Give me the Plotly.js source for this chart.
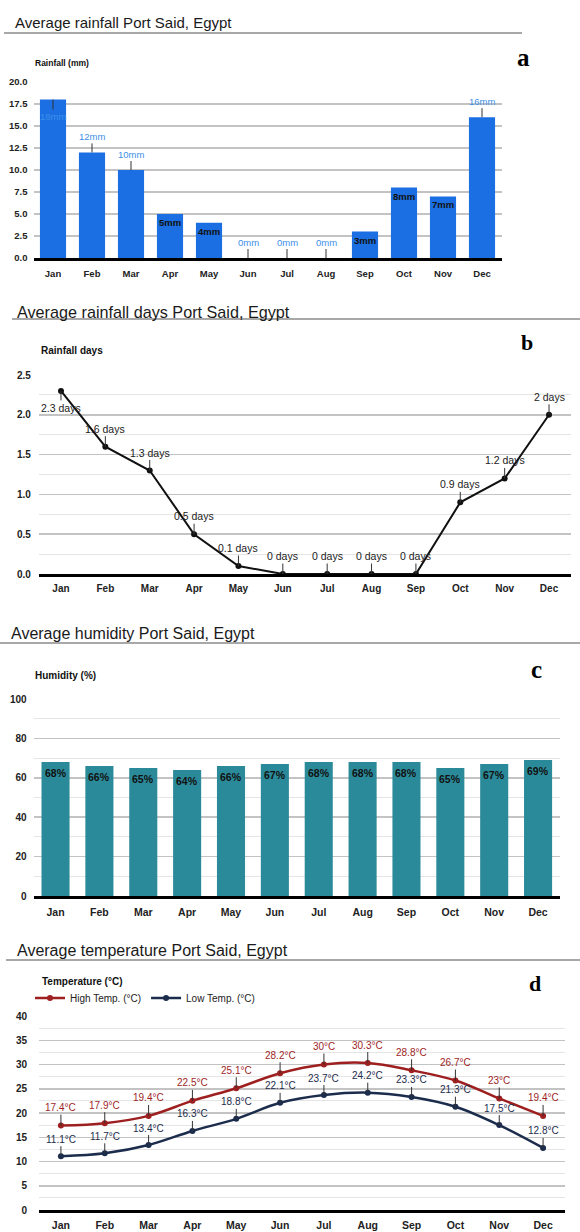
<!DOCTYPE html>
<html><head><meta charset="utf-8">
<script src="https://cdn.plot.ly/plotly-3.0.1.min.js"></script>
<style>html,body{margin:0;padding:0;background:#fff}#chart{width:580px;height:1232px}</style>
</head><body><div id="chart"></div>
<script>
// ---------- data ----------
const months = ['Jan','Feb','Mar','Apr','May','Jun','Jul','Aug','Sep','Oct','Nov','Dec'];
const rainfallMm = [18,12,10,5,4,0,0,0,3,8,7,16];
const rainfallDays = [2.3,1.6,1.3,0.5,0.1,0,0,0,0,0.9,1.2,2];
const humidityPct = [68,66,65,64,66,67,68,68,68,65,67,69];
const highTempC = [17.4,17.9,19.4,22.5,25.1,28.2,30,30.3,28.8,26.7,23,19.4];
const lowTempC = [11.1,11.7,13.4,16.3,18.8,22.1,23.7,24.2,23.3,21.3,17.5,12.8];
const panelTitles = ['Average rainfall Port Said, Egypt','Average rainfall days Port Said, Egypt','Average humidity Port Said, Egypt','Average temperature Port Said, Egypt'];
const panelLetters = ['a','b','c','d'];
const axisTitles = ['Rainfall (mm)','Rainfall days','Humidity (%)','Temperature (°C)'];
const seriesNames = ['High Temp. (°C)','Low Temp. (°C)'];

// ---------- geometry / style ----------
const W = 580, H = 1232;
const fx = p => p / W;
const fy = p => 1 - p / H;
const SANS = '"Liberation Sans", Arial, sans-serif';
const SERIF = '"Liberation Serif", "Times New Roman", serif';
const GRID = '#c3c3c3', MINOR = '#e5e5e5';
const RAIN_BLUE = '#1b6fe3', RAIN_LABEL = '#3d8fe8';
const TEAL = '#2b8a99';
const HIGH = '#9e1f1f', LOW = '#1c2c4c';

const geo = {
  a: {x: [33.5, 501.5], y: [82, 258]},
  b: {x: [38.8, 571.2], y: [375, 574]},
  c: {x: [33.6, 560], y: [699, 896]},
  d: {x: [39, 565], y: [1016, 1210]}
};

function xAxis(g, anchor, font, standoff) {
  return {domain: [fx(g.x[0]), fx(g.x[1])], anchor, type: 'category', range: [-0.5, 11.5],
    showgrid: false, zeroline: false, showline: true, linecolor: '#000', linewidth: 3,
    ticks: '', tickfont: font, ticklabelstandoff: standoff, fixedrange: true, automargin: false};
}
function yAxis(g, anchor, range, dtick, minorDtick, fmt, font, standoff) {
  const ax = {domain: [fy(g.y[1]), fy(g.y[0])], anchor, range, tick0: 0, dtick,
    showgrid: true, gridcolor: GRID, gridwidth: 1.5, zeroline: false, showline: false,
    ticks: '', tickformat: fmt, tickfont: font, ticklabelstandoff: standoff,
    fixedrange: true, automargin: false};
  if (minorDtick) ax.minor = {dtick: minorDtick, showgrid: true, gridcolor: MINOR, gridwidth: 1};
  return ax;
}
const tickBold = size => ({family: SANS, size, color: '#222', weight: 'bold'});

// ---------- traces ----------
const traces = [
  {type: 'bar', x: months, y: rainfallMm, xaxis: 'x', yaxis: 'y', width: 0.67,
   marker: {color: RAIN_BLUE}, showlegend: false},
  {type: 'scatter', mode: 'lines+markers', x: months, y: rainfallDays, xaxis: 'x2', yaxis: 'y2',
   line: {color: '#111', width: 2}, marker: {color: '#111', size: 6}, showlegend: false, cliponaxis: false},
  {type: 'bar', x: months, y: humidityPct, xaxis: 'x3', yaxis: 'y3', width: 0.64,
   marker: {color: TEAL}, showlegend: false},
  {type: 'scatter', mode: 'lines+markers', name: seriesNames[0], x: months, y: highTempC, xaxis: 'x4', yaxis: 'y4',
   line: {color: HIGH, width: 2.5, shape: 'spline'}, marker: {color: HIGH, size: 6}, cliponaxis: false},
  {type: 'scatter', mode: 'lines+markers', name: seriesNames[1], x: months, y: lowTempC, xaxis: 'x4', yaxis: 'y4',
   line: {color: LOW, width: 2.5, shape: 'spline'}, marker: {color: LOW, size: 6}, cliponaxis: false}
];

// ---------- annotations ----------
const ann = [];
const titlePos = [[13, 22, 15], [15, 312, 16.2], [9, 633, 16], [15, 950, 16]];
const letterPos = [[523, 58, 25], [527, 343, 22], [536, 670, 25], [535, 983, 22]];
const axisTitlePos = [[33, 63, 8.5], [39, 350, 10], [33, 675, 10], [40, 981, 10]];
panelTitles.forEach((t, i) => {
  const p = titlePos[i];
  ann.push({xref: 'paper', yref: 'paper', x: fx(p[0]), y: fy(p[1]), xanchor: 'left', yanchor: 'middle',
    text: t, showarrow: false, font: {family: SANS, size: p[2], color: '#1a1a1a'}});
  const l = letterPos[i];
  ann.push({xref: 'paper', yref: 'paper', x: fx(l[0]), y: fy(l[1]), xanchor: 'center', yanchor: 'middle',
    text: panelLetters[i], showarrow: false, font: {family: SERIF, size: l[2], color: '#000', weight: 'bold'}});
  const a = axisTitlePos[i];
  ann.push({xref: 'paper', yref: 'paper', x: fx(a[0]), y: fy(a[1]), xanchor: 'left', yanchor: 'middle',
    text: axisTitles[i], showarrow: false, font: {family: SANS, size: a[2], color: '#111', weight: 'bold'}});
});

const stem = {showarrow: true, arrowhead: 0, arrowwidth: 1, arrowcolor: '#333', ax: 0, standoff: 0};

// panel a: labels inside the bar for these months, stemmed labels otherwise
const insideA = ['Apr', 'May', 'Sep', 'Oct', 'Nov'];
rainfallMm.forEach((v, i) => {
  const m = months[i];
  if (insideA.includes(m)) {
    ann.push({xref: 'x', yref: 'y', x: m, y: v, text: v + 'mm', showarrow: false, yanchor: 'top', yshift: -1,
      font: {family: SANS, size: 9.5, color: '#111', weight: 'bold'}});
  } else {
    ann.push(Object.assign({}, stem, {xref: 'x', yref: 'y', x: m, y: v, text: v + 'mm', ay: i === 0 ? 17 : -16,
      font: {family: SANS, size: 9.5, color: RAIN_LABEL}}));
  }
});

// panel b
rainfallDays.forEach((v, i) => {
  ann.push(Object.assign({}, stem, {xref: 'x2', yref: 'y2', x: months[i], y: v, text: v + ' days',
    ay: i === 0 ? 17 : -18, font: {family: SANS, size: 10.5, color: '#222'}}));
});

// panel c
humidityPct.forEach((v, i) => {
  ann.push({xref: 'x3', yref: 'y3', x: months[i], y: v, text: v + '%', showarrow: false, yanchor: 'top', yshift: -3,
    font: {family: SANS, size: 10.5, color: '#111', weight: 'bold'}});
});

// panel d
highTempC.forEach((v, i) => {
  ann.push(Object.assign({}, stem, {xref: 'x4', yref: 'y4', x: months[i], y: v, text: v + '°C', ay: -18,
    font: {family: SANS, size: 10, color: HIGH}}));
});
lowTempC.forEach((v, i) => {
  ann.push(Object.assign({}, stem, {xref: 'x4', yref: 'y4', x: months[i], y: v, text: v + '°C', ay: -17,
    font: {family: SANS, size: 10, color: LOW}}));
});

// ---------- divider lines under titles ----------
const dividers = [[4, 522, 33], [12, 580, 319], [0, 580, 643], [6, 580, 960]];
const shapes = dividers.map(d => ({type: 'line', xref: 'paper', yref: 'paper',
  x0: fx(d[0]), x1: fx(d[1]), y0: fy(d[2]), y1: fy(d[2]), line: {color: '#a8a8a8', width: 2}}));

const layout = {
  width: W, height: H, margin: {l: 0, r: 0, t: 0, b: 0},
  paper_bgcolor: '#fff', plot_bgcolor: 'rgba(0,0,0,0)',
  font: {family: SANS},
  showlegend: true,
  legend: {orientation: 'h', x: fx(30), y: fy(998), xanchor: 'left', yanchor: 'middle',
    font: {family: SANS, size: 10, color: '#222'}, bgcolor: 'rgba(0,0,0,0)', itemwidth: 30, traceorder: 'normal'},
  xaxis: xAxis(geo.a, 'y', tickBold(9.5), 5),
  yaxis: yAxis(geo.a, 'x', [0, 20], 2.5, null, '.1f', tickBold(9.5), 5),
  xaxis2: xAxis(geo.b, 'y2', tickBold(10), 3),
  yaxis2: yAxis(geo.b, 'x2', [0, 2.5], 0.5, 0.25, '.1f', tickBold(10), 7),
  xaxis3: xAxis(geo.c, 'y3', tickBold(10.5), 4),
  yaxis3: yAxis(geo.c, 'x3', [0, 100], 20, 10, 'd', tickBold(10), 6),
  xaxis4: xAxis(geo.d, 'y4', tickBold(10.5), 3),
  yaxis4: yAxis(geo.d, 'x4', [0, 40], 5, 2.5, 'd', tickBold(10), 11),
  annotations: ann,
  shapes
};

Plotly.newPlot('chart', traces, layout, {staticPlot: true, displayModeBar: false});
</script>
</body></html>
